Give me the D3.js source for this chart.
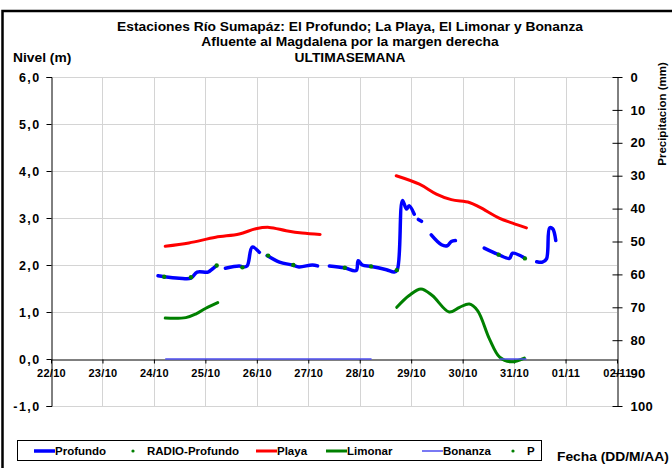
<!DOCTYPE html>
<html>
<head>
<meta charset="utf-8">
<script src="https://cdn.jsdelivr.net/npm/d3@7"></script>
<style>
  body { margin: 0; background: #fff; }
  svg text { font-family: "Liberation Sans", Arial, sans-serif; font-weight: bold; fill: #000; }
</style>
</head>
<body>
<div id="chart"></div>
<script>

// Data (x = days since 22/10 00:00, y = nivel in m; null breaks the line)
var xTickLabels = ["22/10", "23/10", "24/10", "25/10", "26/10", "27/10", "28/10", "29/10", "30/10", "31/10", "01/11", "02/11"];
var yTicks = [-1, 0, 1, 2, 3, 4, 5, 6];
var precipTicks = [0, 10, 20, 30, 40, 50, 60, 70, 80, 90, 100];

var profundo = [
  [2.08, 1.77], [2.20, 1.75], [2.49, 1.72], [2.72, 1.72], [2.84, 1.85], [3.05, 1.85], [3.13, 1.91], [3.21, 1.98],
  null,
  [3.39, 1.93], [3.66, 1.98], [3.72, 1.96], [3.81, 1.98], [3.91, 2.38], [4.05, 2.27],
  null,
  [4.20, 2.20], [4.44, 2.06], [4.69, 2.00], [4.82, 1.96], [5.08, 2.00], [5.18, 1.98],
  null,
  [5.41, 1.98], [5.70, 1.94], [5.93, 1.88], [5.97, 2.09], [6.05, 2.00], [6.23, 1.97], [6.52, 1.90],
  [6.67, 1.85], [6.73, 1.90], [6.83, 3.37], [6.91, 3.19], [6.96, 3.26], [7.06, 3.08],
  null,
  [7.14, 2.97], [7.20, 2.93],
  null,
  [7.39, 2.64], [7.59, 2.43], [7.70, 2.41], [7.78, 2.50], [7.86, 2.52],
  null,
  [8.42, 2.36], [8.70, 2.22], [8.91, 2.14], [8.97, 2.25], [9.20, 2.15],
  null,
  [9.44, 2.07], [9.55, 2.06], [9.63, 2.13], [9.69, 2.79], [9.75, 2.77], [9.81, 2.52]
];

var radioProfundo = [
  [2.20, 1.75], [2.72, 1.74], [3.22, 1.99], [3.72, 1.95], [4.22, 2.20], [4.71, 2.00],
  [5.71, 1.94], [6.22, 1.97], [6.72, 1.89], [8.70, 2.22], [9.21, 2.14]
];

var playa = [
  [2.22, 2.40], [2.68, 2.47], [3.20, 2.59], [3.66, 2.66], [3.98, 2.77], [4.24, 2.80], [4.57, 2.73], [4.88, 2.68], [5.23, 2.65],
  null,
  [6.71, 3.90], [7.16, 3.72], [7.49, 3.51], [7.78, 3.39], [8.13, 3.33], [8.33, 3.23], [8.72, 2.99], [8.97, 2.89], [9.24, 2.79]
];

var limonar = [
  [2.22, 0.87], [2.62, 0.88], [2.82, 0.96], [3.01, 1.08], [3.24, 1.20],
  null,
  [6.72, 1.10], [6.96, 1.35], [7.19, 1.49], [7.41, 1.35], [7.74, 1.00], [7.94, 1.10], [8.13, 1.17],
  [8.29, 1.03], [8.52, 0.43], [8.72, 0.04], [8.94, -0.06], [9.20, 0.02]
];

var bonanza = [
  [2.22, 0], [6.23, 0],
  null,
  [8.72, 0], [9.24, 0]
];

// precipitation (no values recorded this week)
var precipitacion = [];

var legendNames = ["Profundo", "RADIO-Profundo", "Playa", "Limonar", "Bonanza", "P"];

// chart size
var svgWidth = 672;
var svgHeight = 468;

var margin = { top: 77, right: 55, bottom: 62, left: 51 };
var width = svgWidth - margin.left - margin.right;
var height = svgHeight - margin.top - margin.bottom;

// the original text is drawn a bit wide, so stretch it horizontally
var stretch = 1.15;

function wideText(parent, x, y, size, anchor, label) {
  return parent.append("text")
    .attr("transform", `translate(${x}, ${y}) scale(${stretch}, 1)`)
    .attr("text-anchor", anchor)
    .attr("font-size", size)
    .text(label);
}

var svg = d3.select("#chart")
  .append("svg")
  .attr("width", svgWidth)
  .attr("height", svgHeight);

// outer frame (runs off the right and bottom edge like the original)
svg.append("rect")
  .attr("x", 2.5)
  .attr("y", 11)
  .attr("width", 700)
  .attr("height", 500)
  .attr("fill", "none")
  .attr("stroke", "#000")
  .attr("stroke-width", 2.5);

var chartGroup = svg.append("g")
  .attr("transform", `translate(${margin.left}, ${margin.top})`);

// scales
var xScale = d3.scaleLinear().domain([0, 11]).range([0, width]);
var yScale = d3.scaleLinear().domain([-1, 6]).range([height, 0]);
var y2Scale = d3.scaleLinear().domain([0, 100]).range([0, height]);

// gridlines
chartGroup.append("g")
  .selectAll("line")
  .data(d3.range(1, 11))
  .enter()
  .append("line")
  .attr("x1", d => Math.round(xScale(d)) + 0.5)
  .attr("x2", d => Math.round(xScale(d)) + 0.5)
  .attr("y1", 0)
  .attr("y2", height)
  .attr("stroke", "#d4d4d4")
  .attr("stroke-width", 1);

chartGroup.append("g")
  .selectAll("line")
  .data(yTicks.filter(d => d !== 0))
  .enter()
  .append("line")
  .attr("x1", 0)
  .attr("x2", width)
  .attr("y1", d => Math.round(yScale(d)) + 0.5)
  .attr("y2", d => Math.round(yScale(d)) + 0.5)
  .attr("stroke", "#d4d4d4")
  .attr("stroke-width", 1);

// left axis
var leftAxis = d3.axisLeft(yScale)
  .tickValues(yTicks)
  .tickSize(5)
  .tickPadding(6)
  .tickFormat(d => d3.format(".1f")(d).replace(".", ",").replace("−", "-"));

var yAxis = chartGroup.append("g")
  .attr("transform", "translate(0.5, 0)")
  .call(leftAxis);
yAxis.selectAll("text")
  .attr("font-size", "12.5px")
  .attr("letter-spacing", "1.4px");

// right axis (precipitation, reversed)
var rightAxis = d3.axisRight(y2Scale)
  .tickValues(precipTicks)
  .tickSizeInner(5)
  .tickSizeOuter(0)
  .tickPadding(8);

var y2Axis = chartGroup.append("g")
  .attr("transform", `translate(${width + 0.5}, 0)`)
  .call(rightAxis);
y2Axis.selectAll(".tick line").attr("x1", -5);
y2Axis.selectAll("text")
  .attr("font-size", "13px")
  .attr("letter-spacing", "0.3px");

// bottom axis at nivel 0
var bottomAxis = d3.axisBottom(xScale)
  .tickValues(d3.range(0, 12))
  .tickSize(4)
  .tickSizeOuter(0)
  .tickPadding(6)
  .tickFormat((d, i) => xTickLabels[i]);

var xAxis = chartGroup.append("g")
  .attr("transform", `translate(0, ${Math.round(yScale(0)) + 0.5})`)
  .call(bottomAxis);
xAxis.selectAll("text")
  .attr("font-size", "11px")
  .attr("letter-spacing", "0.3px");

chartGroup.selectAll(".domain").attr("stroke", "#000");
chartGroup.selectAll(".tick line").attr("stroke", "#000");

// series lines
var line = d3.line()
  .defined(d => d !== null)
  .x(d => xScale(d[0]))
  .y(d => yScale(d[1]))
  .curve(d3.curveCatmullRom.alpha(0.5));

chartGroup.append("path")
  .datum(profundo)
  .attr("d", line)
  .attr("fill", "none")
  .attr("stroke", "#0000ff")
  .attr("stroke-width", 3.5)
  .attr("stroke-linejoin", "round")
  .attr("stroke-linecap", "round");

chartGroup.selectAll(".radio")
  .data(radioProfundo)
  .enter()
  .append("circle")
  .attr("class", "radio")
  .attr("cx", d => xScale(d[0]))
  .attr("cy", d => yScale(d[1]))
  .attr("r", 2.2)
  .attr("fill", "#008000");

chartGroup.append("path")
  .datum(playa)
  .attr("d", line)
  .attr("fill", "none")
  .attr("stroke", "#ff0000")
  .attr("stroke-width", 3)
  .attr("stroke-linecap", "round");

chartGroup.append("path")
  .datum(limonar)
  .attr("d", line)
  .attr("fill", "none")
  .attr("stroke", "#008000")
  .attr("stroke-width", 3)
  .attr("stroke-linecap", "round");

chartGroup.append("path")
  .datum(bonanza)
  .attr("d", line)
  .attr("fill", "none")
  .attr("stroke", "#4d4df0")
  .attr("stroke-width", 1.5);

chartGroup.selectAll(".precip")
  .data(precipitacion)
  .enter()
  .append("circle")
  .attr("class", "precip")
  .attr("cx", d => xScale(d[0]))
  .attr("cy", d => y2Scale(d[1]))
  .attr("r", 2)
  .attr("fill", "#008000");

// titles
var titleLines = [
  "Estaciones Río Sumapáz: El Profundo; La Playa, El Limonar y Bonanza",
  "Afluente al Magdalena por la margen derecha",
  "ULTIMASEMANA"
];

titleLines.forEach(function(t, i) {
  wideText(svg, 350, 30.5 + i * 15.8, "12px", "middle", t);
});

wideText(svg, 13, 62, "12px", "start", "Nivel (m)");
wideText(svg, 557, 461, "12px", "start", "Fecha (DD/M/AA)");

svg.append("text")
  .attr("transform", "translate(666, 114) rotate(-90)")
  .attr("text-anchor", "middle")
  .attr("font-size", "11.5px")
  .text("Precipitacion (mm)");

// legend
var legend = svg.append("g");

legend.append("rect")
  .attr("x", 17.5)
  .attr("y", 440.5)
  .attr("width", 524)
  .attr("height", 20)
  .attr("fill", "#fff")
  .attr("stroke", "#000")
  .attr("stroke-width", 1);

var legendX = [34, 128, 256, 326, 422, 508];
var legendStyle = [
  { type: "line", color: "#0000ff", w: 3.5 },
  { type: "dot", color: "#008000" },
  { type: "line", color: "#ff0000", w: 3 },
  { type: "line", color: "#008000", w: 3 },
  { type: "line", color: "#4d4df0", w: 1.5 },
  { type: "dot", color: "#008000" }
];

legendNames.forEach(function(name, i) {
  var s = legendStyle[i];
  var lx = legendX[i];
  if (s.type === "line") {
    legend.append("line")
      .attr("x1", lx)
      .attr("x2", lx + 21)
      .attr("y1", 451)
      .attr("y2", 451)
      .attr("stroke", s.color)
      .attr("stroke-width", s.w);
    legend.append("text")
      .attr("x", lx + 21)
      .attr("y", 455)
      .attr("font-size", "11.5px")
      .text(name);
  }
  else {
    legend.append("circle")
      .attr("cx", lx + 5)
      .attr("cy", 451)
      .attr("r", 1.6)
      .attr("fill", s.color);
    legend.append("text")
      .attr("x", lx + 19)
      .attr("y", 455)
      .attr("font-size", "11.5px")
      .text(name);
  }
});

</script>
</body>
</html>
